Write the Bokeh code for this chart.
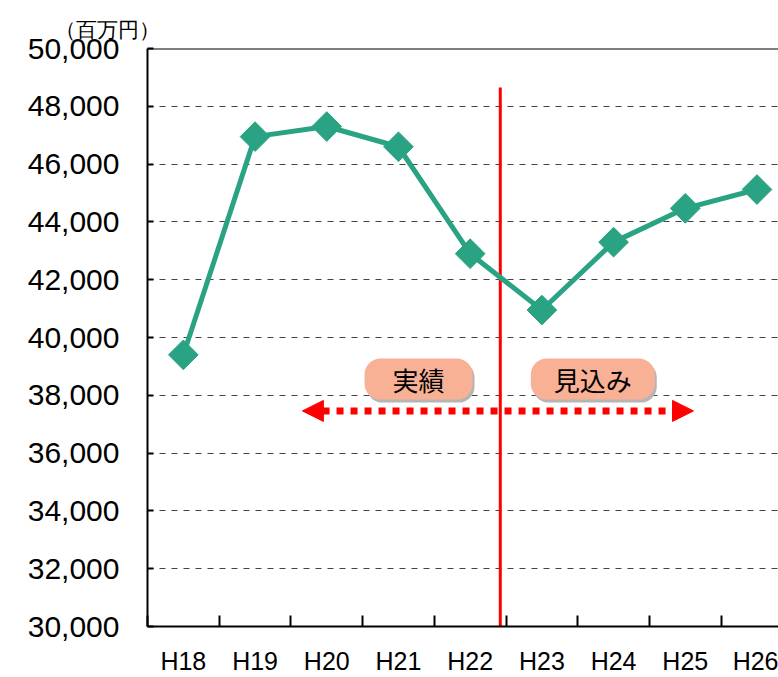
import numpy as np
from bokeh.plotting import figure
from bokeh.models import (Range1d, FixedTicker, NumeralTickFormatter, Span, Label,
                          Arrow, NormalHead, ColumnDataSource)
from bokeh.embed import file_html
from bokeh.resources import INLINE

# ---- data ----
categories = ["H18", "H19", "H20", "H21", "H22", "H23", "H24", "H25", "H26"]
values = [39400, 46950, 47300, 46600, 42900, 40950, 43300, 44470, 45120]
y_ticks = list(range(30000, 50001, 2000))
unit_label = "（百万円）"
label_actual = "実績"
label_forecast = "見込み"

# ---- annotation positions (data units) ----
divider_x = 4.42
divider_top = 48650
arrow_y = 37460
arrow_left = 1.66
arrow_right = 7.115
pill_y = 38560
pill_actual_x = 3.28
pill_forecast_x = 5.71

GREEN = "#2AA385"
xs = list(range(len(categories)))
src = ColumnDataSource(dict(x=xs, y=values, cat=categories))

p = figure(width=778, height=677, output_backend="svg", toolbar_location=None,
           x_range=Range1d(-0.5, 8.30), y_range=Range1d(30000, 50000),
           min_border_left=147, min_border_right=0, min_border_top=48,
           min_border_bottom=51, title=unit_label, title_location="above")
p.outline_line_color = None
p.background_fill_color = "white"
p.border_fill_color = "white"

# unit label as title
p.title.align = "left"
p.title.offset = -93
p.title.text_font = "Liberation Sans"
p.title.text_font_size = "21px"
p.title.text_font_style = "normal"
p.title.text_color = "black"
p.title.standoff = 15

# x axis
p.xaxis.ticker = FixedTicker(ticks=xs, minor_ticks=[i + 0.5 for i in range(-1, 9)])
p.xaxis.major_label_overrides = {i: c for i, c in enumerate(categories)}
p.xaxis.major_tick_line_color = None
p.xaxis.minor_tick_in = 11
p.xaxis.minor_tick_out = 0
p.xaxis.minor_tick_line_color = "black"
p.xaxis.minor_tick_line_width = 2
p.xaxis.axis_line_width = 2
p.xaxis.axis_line_color = "black"
p.xaxis.major_label_text_font = "Liberation Sans"
p.xaxis.major_label_text_font_size = "25px"
p.xaxis.major_label_text_color = "black"
p.xaxis.major_label_standoff = 14
p.xgrid.visible = False

# y axis
p.yaxis.ticker = FixedTicker(ticks=y_ticks, minor_ticks=[])
p.yaxis.formatter = NumeralTickFormatter(format="0,0")
p.yaxis.major_tick_in = 6
p.yaxis.major_tick_out = 0
p.yaxis.major_tick_line_width = 2
p.yaxis.major_tick_line_color = "black"
p.yaxis.axis_line_width = 2
p.yaxis.axis_line_color = "black"
p.yaxis.major_label_text_font = "Liberation Sans"
p.yaxis.major_label_text_font_size = "30px"
p.yaxis.major_label_text_color = "black"
p.yaxis.major_label_standoff = 28
p.ygrid.ticker = FixedTicker(ticks=y_ticks[1:-1])
p.ygrid.grid_line_color = "#444444"
p.ygrid.grid_line_dash = "6 6"
p.ygrid.grid_line_width = 1

# top border
p.add_layout(Span(location=50000, dimension="width", line_color="black", line_width=2))

# divider line
p.line([divider_x, divider_x], [30000, divider_top], line_color="#FF0000", line_width=3)

# dotted double arrow
p.add_layout(Arrow(x_start=arrow_right, y_start=arrow_y, x_end=arrow_left, y_end=arrow_y,
                   line_color="#FF0000", line_width=7, line_dash="7 7",
                   start=NormalHead(size=21, fill_color="#FF0000", line_color="#FF0000"),
                   end=NormalHead(size=21, fill_color="#FF0000", line_color="#FF0000")))

# pills
for px, txt, pad in [(pill_actual_x, label_actual, 28), (pill_forecast_x, label_forecast, 23)]:
    p.add_layout(Label(x=px, y=pill_y, x_offset=2, y_offset=-3, text=txt,
                       text_align="center", text_baseline="middle",
                       text_font="Noto Sans CJK JP", text_font_size="26px",
                       text_color="#B5B5B5", background_fill_color="#B5B5B5",
                       padding=(pad, 2), border_radius=16))
    p.add_layout(Label(x=px, y=pill_y, text=txt,
                       text_align="center", text_baseline="middle",
                       text_font="Noto Sans CJK JP", text_font_size="26px",
                       text_color="black", background_fill_color="#F9B196",
                       padding=(pad, 2), border_radius=16))

# series
p.line("x", "y", source=src, line_color=GREEN, line_width=5)
p.scatter("x", "y", source=src, marker="square", size=21, angle=np.pi / 4,
          fill_color=GREEN, line_color=GREEN)

open("out.html", "w").write(file_html(p, INLINE))
